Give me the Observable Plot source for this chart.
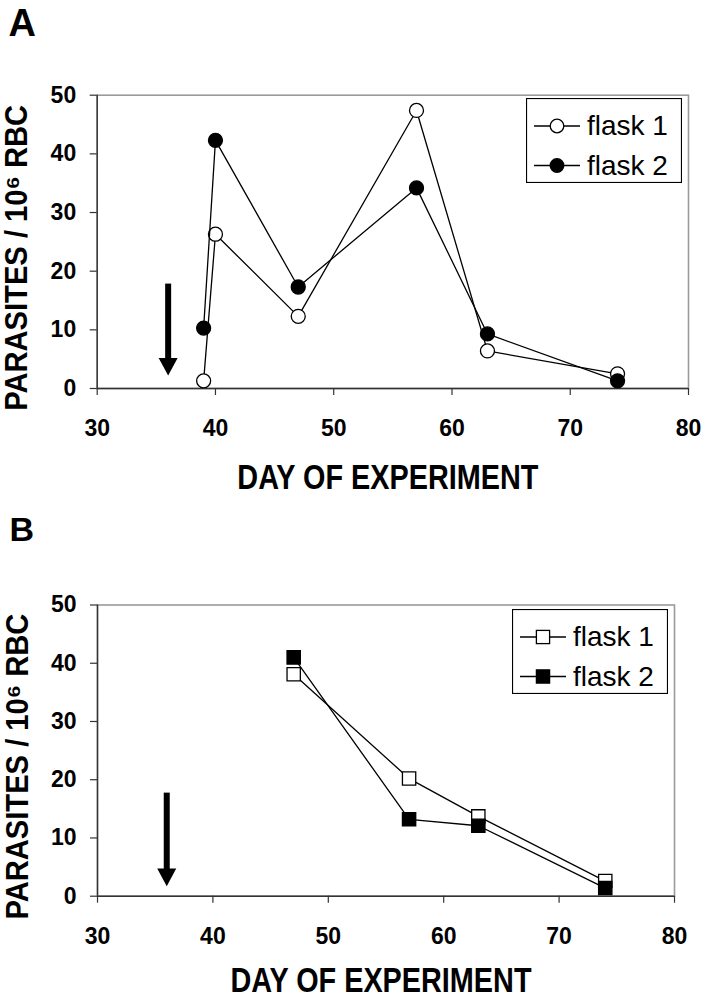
<!DOCTYPE html>
<html>
<head>
<meta charset="utf-8">
<script src="https://cdn.jsdelivr.net/npm/d3@7"></script>
<script src="https://cdn.jsdelivr.net/npm/@observablehq/plot@0.6"></script>
<style>
  body { margin: 0; background: #fff; }
  #fig { position: relative; width: 714px; height: 1002px; background: #fff;
         font-family: "Liberation Sans", Arial, Helvetica, sans-serif; }
  .panel { position: absolute; left: 0; }
  .legend { position: absolute; }
</style>
</head>
<body>
<div id="fig"></div>
<script>
// ---------- data ----------
const seriesNames = ["flask 1", "flask 2"];
const panelLabels = ["A", "B"];
const xLabel = "DAY OF EXPERIMENT";
const yLabel = "PARASITES / 10⁶ RBC";
const xTicks = [30, 40, 50, 60, 70, 80];
const yTicks = [0, 10, 20, 30, 40, 50];

const daysA = [39, 40, 47, 57, 63, 74];
const flask1A = [1.3, 26.3, 12.3, 47.4, 6.4, 2.5];
const flask2A = [10.3, 42.3, 17.3, 34.2, 9.3, 1.3];

const daysB = [47, 57, 63, 74];
const flask1B = [38.1, 20.2, 13.7, 2.6];
const flask2B = [41.0, 13.2, 12.1, 1.4];

const arrowDay = 36;
const arrowA = [17.8, 2.2];   // [from, to]
const arrowB = [17.7, 1.7];

// ---------- helpers ----------
const FONT = '"Liberation Sans", Arial, Helvetica, sans-serif';

const downHead = {
  draw(ctx) {
    const w = 9.5, h = 17.7;
    ctx.moveTo(-w, -h);
    ctx.lineTo(w, -h);
    ctx.lineTo(0, 0);
    ctx.closePath();
  }
};

function rows(days, vals, series) {
  return days.map((d, i) => ({day: d, value: vals[i], series}));
}

function makePanel(cfg) {
  const s1 = rows(cfg.days, cfg.f1, seriesNames[0]);
  const s2 = rows(cfg.days, cfg.f2, seriesNames[1]);
  const arrow = [{day: arrowDay, from: cfg.arrow[0], to: cfg.arrow[1]}];
  const sym = cfg.symbol;
  const r = cfg.r;

  const chart = Plot.plot({
    width: 714,
    height: cfg.height,
    marginTop: cfg.mt,
    marginBottom: cfg.mb,
    marginLeft: cfg.ml,
    marginRight: cfg.mr,
    x: {domain: [30, 80]},
    y: {domain: [0, 50]},
    style: {fontFamily: FONT, fontWeight: "bold", fontSize: "23px", color: "black", background: "white", overflow: "visible"},
    marks: [
      Plot.frame({stroke: "#9a9a9a", strokeWidth: 1.6}),
      Plot.ruleX([30], {stroke: "#333", strokeWidth: 1.4}),
      Plot.ruleY([0], {stroke: "#333", strokeWidth: 1.4}),
      Plot.axisX({ticks: xTicks, tickSize: 7, tickPadding: 24, stroke: "#333", strokeWidth: 1.2, fill: "black", label: null}),
      Plot.axisY({ticks: yTicks, tickSize: 7, tickPadding: 14, stroke: "#333", strokeWidth: 1.2, fill: "black", label: null}),
      // arrow
      Plot.ruleX(arrow, {x: "day", y1: "from", y2: "to", stroke: "black", strokeWidth: 6, insetBottom: 12}),
      Plot.dot(arrow, {x: "day", y: "to", symbol: downHead, fill: "black", stroke: "none", r: 1}),
      // series 1
      Plot.line(s1, {x: "day", y: "value", stroke: "black", strokeWidth: 1.3}),
      Plot.dot(s1, {x: "day", y: "value", symbol: sym, r, fill: "white", stroke: "black", strokeWidth: 1.3}),
      // series 2
      Plot.line(s2, {x: "day", y: "value", stroke: "black", strokeWidth: 1.3}),
      Plot.dot(s2, {x: "day", y: "value", symbol: sym, r, fill: "black", stroke: "black", strokeWidth: 1.3}),
      // titles
      Plot.text([xLabel], {text: d => d, frameAnchor: "bottom", lineAnchor: "bottom", textAnchor: "middle",
        dy: cfg.xTitleDy, dx: -5, fontSize: 35, fill: "black"}),
      Plot.text([yLabel], {text: d => d, frameAnchor: "left", rotate: -90, lineAnchor: "middle", textAnchor: "middle",
        dx: -80, dy: 16, fontSize: 32, fill: "black"}),
      Plot.text([cfg.letter], {text: d => d, frameAnchor: "top-left", textAnchor: "start", lineAnchor: "bottom",
        dx: cfg.letterDx, dy: cfg.letterDy, fontSize: cfg.letterSize, fill: "black"})
    ]
  });
  // condense the big titles like the reference (tall, narrow lettering)
  chart.querySelectorAll("text").forEach(t => {
    if (t.textContent === xLabel) {
      t.setAttribute("textLength", 301);
      t.setAttribute("lengthAdjust", "spacingAndGlyphs");
    } else if (t.textContent === yLabel) {
      t.setAttribute("textLength", 306);
      t.setAttribute("lengthAdjust", "spacingAndGlyphs");
    }
  });
  chart.classList.add("panel");
  chart.style.top = cfg.top + "px";
  fig.appendChild(chart);

  // legend box
  const L = cfg.legend;
  const W = 156, H = 85;
  const rowsY = [28, 67.5];
  const mk = (i) => {
    const cy = rowsY[i];
    const fill = i === 0 ? "white" : "black";
    const m = sym === "circle"
      ? `<circle cx="31" cy="${cy}" r="6.8" fill="${fill}" stroke="black" stroke-width="1.3"/>`
      : `<rect x="${31 - 6.6}" y="${cy - 6.6}" width="13.2" height="13.2" fill="${fill}" stroke="black" stroke-width="1.3"/>`;
    return `<line x1="8" x2="54" y1="${cy}" y2="${cy}" stroke="black" stroke-width="1.4"/>${m}
      <text x="61" y="${cy + 9}" font-size="28" font-family='${FONT}' fill="black">${seriesNames[i]}</text>`;
  };
  const lg = document.createElement("div");
  lg.className = "legend";
  lg.style.left = L.x + "px";
  lg.style.top = L.y + "px";
  lg.innerHTML = `<svg width="${W}" height="${H}" style="display:block">
      <rect x="0.5" y="0.5" width="${W - 1}" height="${H - 1}" fill="white" stroke="black" stroke-width="1.2"/>
      ${mk(0)}${mk(1)}</svg>`;
  fig.appendChild(lg);
}

const fig = document.getElementById("fig");

makePanel({
  top: 0, height: 500, mt: 94.7, mb: 112, ml: 96.7, mr: 26,
  days: daysA, f1: flask1A, f2: flask2A, arrow: arrowA, symbol: "circle", r: 7,
  xTitleDy: 100, letter: panelLabels[0], letterSize: 38, letterDx: -88.7, letterDy: -58.7,
  legend: {x: 526, y: 98}
});

makePanel({
  top: 500, height: 502, mt: 104.5, mb: 106.3, ml: 97, mr: 40,
  days: daysB, f1: flask1B, f2: flask2B, arrow: arrowB, symbol: "square", r: 7.5,
  xTitleDy: 96, letter: panelLabels[1], letterSize: 34, letterDx: -88, letterDy: -63.8,
  legend: {x: 512, y: 609}
});
</script>
</body>
</html>
